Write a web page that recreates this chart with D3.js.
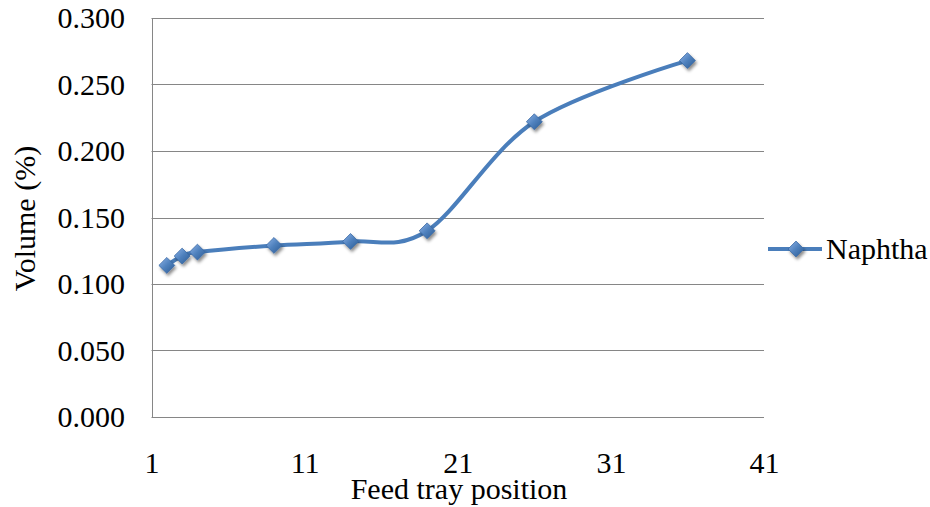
<!DOCTYPE html>
<html>
<head>
<meta charset="utf-8">
<script src="https://cdn.jsdelivr.net/npm/d3@7"></script>
<style>
  html, body { margin: 0; padding: 0; background: #fff; }
  svg text { font-family: "Liberation Serif", "Times New Roman", Times, serif; }
</style>
</head>
<body>
<svg id="chart" width="930" height="507"></svg>
<script>
const trayPositions = [2, 3, 4, 9, 14, 19, 26, 36];
const naphthaVolume = [0.114, 0.121, 0.124, 0.129, 0.132, 0.140, 0.222, 0.268];
const xTicks = [1, 11, 21, 31, 41];
const yTicks = [0, 0.05, 0.10, 0.15, 0.20, 0.25, 0.30];
const seriesName = "Naphtha";
const xTitle = "Feed tray position";
const yTitle = "Volume (%)";

const svg = d3.select("#chart");
const x = d3.scaleLinear().domain([1, 41]).range([151.5, 764]);
const y = d3.scaleLinear().domain([0, 0.3]).range([417, 18]);

const defs = svg.append("defs");
const grad = defs.append("linearGradient").attr("id", "mk").attr("x1", "0").attr("y1", "0").attr("x2", "1").attr("y2", "1");
grad.append("stop").attr("offset", "0").attr("stop-color", "#8db3e8");
grad.append("stop").attr("offset", "0.5").attr("stop-color", "#4f81bd");
grad.append("stop").attr("offset", "1").attr("stop-color", "#2a5a93");
const f = defs.append("filter").attr("id", "sh").attr("x", "-50%").attr("y", "-50%").attr("width", "200%").attr("height", "200%");
f.append("feDropShadow").attr("dx", 1.5).attr("dy", 2.5).attr("stdDeviation", 1.6).attr("flood-color", "#000").attr("flood-opacity", 0.45);

// gridlines
svg.append("g").selectAll("line").data(yTicks).join("line")
  .attr("x1", x(1)).attr("x2", x(41))
  .attr("y1", d => Math.round(y(d)) + 0.5).attr("y2", d => Math.round(y(d)) + 0.5)
  .attr("stroke", "#868686").attr("stroke-width", 1);

// y axis line
svg.append("line").attr("x1", Math.round(x(1)) + 0.5).attr("x2", Math.round(x(1)) + 0.5)
  .attr("y1", Math.round(y(0.3))).attr("y2", Math.round(y(0)) + 1)
  .attr("stroke", "#868686").attr("stroke-width", 1);

// y tick labels
const yAxis = d3.axisLeft(y).tickValues(yTicks).tickFormat(d3.format(".3f")).tickSize(0).tickPadding(26.5);
const gy = svg.append("g").attr("transform", `translate(${x(1)},0)`).call(yAxis);
gy.select(".domain").remove();
gy.attr("font-family", null).attr("font-size", null);
gy.selectAll("text").attr("font-size", 30).attr("fill", "#000");

// x tick labels
const xAxis = d3.axisBottom(x).tickValues(xTicks).tickFormat(d3.format("d")).tickSize(0).tickPadding(34.5);
const gx = svg.append("g").attr("transform", `translate(0,${y(0)})`).call(xAxis);
gx.select(".domain").remove();
gx.attr("font-family", null).attr("font-size", null);
gx.selectAll("text").attr("font-size", 30).attr("fill", "#000");

// axis titles
svg.append("text").attr("x", 459).attr("y", 499).attr("text-anchor", "middle")
  .attr("font-size", 30).attr("fill", "#000").text(xTitle);
svg.append("text").attr("transform", "translate(35,218.5) rotate(-90)").attr("text-anchor", "middle")
  .attr("font-size", 30).attr("fill", "#000").text(yTitle);

// line
const pts = trayPositions.map((t, i) => [t, naphthaVolume[i]]);
const line = d3.line().x(d => x(d[0])).y(d => y(d[1])).curve(d3.curveCardinal.tension(0));
svg.append("path").datum(pts).attr("d", line).attr("fill", "none")
  .attr("stroke", "#4a7ebb").attr("stroke-width", 4).attr("stroke-linecap", "round");

// markers
const diamond = d3.symbol().type(d3.symbolDiamond2).size(160);
svg.append("g").selectAll("path").data(pts).join("path")
  .attr("d", diamond)
  .attr("transform", d => `translate(${x(d[0])},${y(d[1])})`)
  .attr("fill", "url(#mk)").attr("stroke", "#3a6aa6").attr("stroke-width", 0.8)
  .attr("filter", "url(#sh)");

// legend
const lg = svg.append("g").attr("transform", "translate(768,249)");
lg.append("line").attr("x1", 0).attr("x2", 54).attr("y1", 0).attr("y2", 0)
  .attr("stroke", "#4a7ebb").attr("stroke-width", 4);
lg.append("path").attr("d", diamond).attr("transform", "translate(28,0)")
  .attr("fill", "url(#mk)").attr("stroke", "#3a6aa6").attr("stroke-width", 0.8).attr("filter", "url(#sh)");
lg.append("text").attr("x", 58).attr("y", 9.5).attr("font-size", 30).attr("fill", "#000").text(seriesName);
</script>
</body>
</html>
